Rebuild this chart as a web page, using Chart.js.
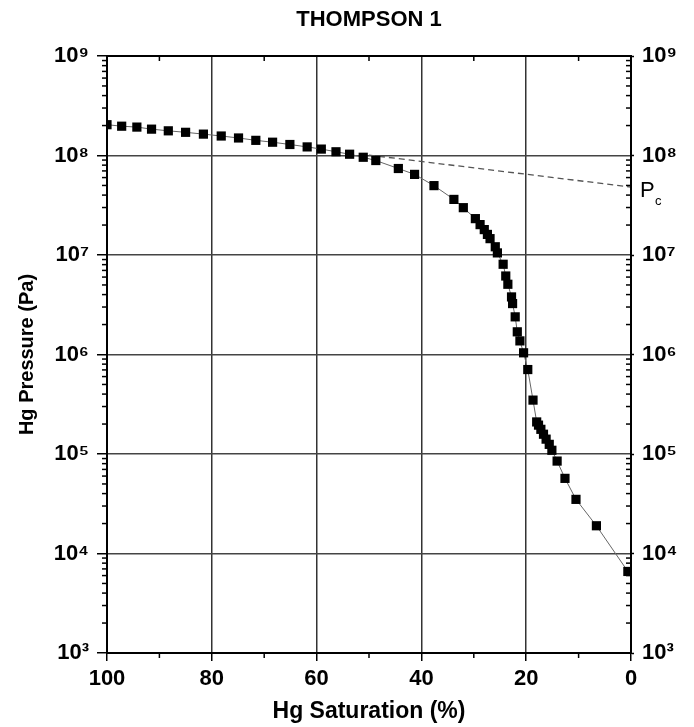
<!DOCTYPE html>
<html>
<head>
<meta charset="utf-8">
<script src="https://cdn.jsdelivr.net/npm/chart.js@4.4.1/dist/chart.umd.min.js"></script>
<style>
  html, body { margin: 0; padding: 0; background: #fff; }
  #wrap { width: 694px; height: 727px; }
</style>
</head>
<body>
<div id="wrap"><canvas id="c" width="694" height="727"></canvas></div>
<script>
// ---- data ----
const saturation = [100, 97.2, 94.3, 91.5, 88.3, 85.0, 81.6, 78.2, 74.9, 71.6, 68.4, 65.1, 61.8, 59.1, 56.3, 53.7, 51.1, 48.7,
  44.4, 41.3, 37.6, 33.8, 32.0, 29.7, 28.8, 28.0, 27.4, 26.9, 25.9, 25.5, 24.4, 23.9, 23.5, 22.8, 22.6, 22.1, 21.7, 21.2, 20.5,
  19.7, 18.7, 18.0, 17.65, 17.2, 16.7, 16.2, 15.6, 15.1, 14.1, 12.6, 10.5, 6.6, 0.6];
const pressure = [2.04e8, 1.97e8, 1.93e8, 1.84e8, 1.77e8, 1.71e8, 1.64e8, 1.57e8, 1.50e8, 1.42e8, 1.36e8, 1.29e8, 1.22e8, 1.16e8, 1.09e8, 1.03e8, 9.6e7, 8.9e7,
  7.4e7, 6.46e7, 4.98e7, 3.62e7, 2.99e7, 2.32e7, 2.02e7, 1.80e7, 1.61e7, 1.46e7, 1.21e7, 1.05e7, 8.07e6, 6.15e6, 5.08e6, 3.79e6, 3.25e6, 2.39e6, 1.69e6, 1.37e6, 1.04e6,
  7.06e5, 3.48e5, 2.10e5, 1.95e5, 1.77e5, 1.58e5, 1.41e5, 1.25e5, 1.09e5, 8.49e4, 5.69e4, 3.50e4, 1.90e4, 6.6e3];
const pcSaturation = [50, 0];
const pcPressure = [1.01e8, 4.82e7];
const xTickValues = [0, 20, 40, 60, 80, 100];
const xMinorValues = [10, 30, 50, 70, 90];
const yExponents = [3, 4, 5, 6, 7, 8, 9];
const titleText = 'THOMPSON 1';
const xTitle = 'Hg Saturation (%)';
const yTitle = 'Hg Pressure (Pa)';

const SUP = {'0':'⁰','1':'¹','2':'²','3':'³','4':'⁴','5':'⁵','6':'⁶','7':'⁷','8':'⁸','9':'⁹'};
const supLabel = v => { const e = Math.round(Math.log10(v)); return '10' + String(e).split('').map(d => SUP[d]).join(''); };
const FONT = '"Liberation Sans", Arial, Helvetica, sans-serif';

const mainPoints = saturation.map((s, i) => ({ x: s, y: pressure[i] }));
const pcPoints = pcSaturation.map((s, i) => ({ x: s, y: pcPressure[i] }));

const framePlugin = {
  id: 'frame',
  afterDatasetsDraw(chart) {
    const { ctx, chartArea: a, scales } = chart;
    const xs = scales.x, ys = scales.y;
    ctx.save();
    ctx.strokeStyle = '#000';
    ctx.lineWidth = 1.5;
    // minor y ticks (both sides, pointing left)
    for (const e of yExponents) {
      if (e === 9) continue;
      for (let m = 2; m <= 9; m++) {
        const py = ys.getPixelForValue(m * Math.pow(10, e));
        ctx.beginPath(); ctx.moveTo(a.left - 5, py); ctx.lineTo(a.left, py); ctx.stroke();
        ctx.beginPath(); ctx.moveTo(a.right - 5, py); ctx.lineTo(a.right, py); ctx.stroke();
      }
    }
    // minor x ticks
    for (const v of xMinorValues) {
      const px = xs.getPixelForValue(v);
      ctx.beginPath(); ctx.moveTo(px, a.top); ctx.lineTo(px, a.top + 5); ctx.stroke();
      ctx.beginPath(); ctx.moveTo(px, a.bottom); ctx.lineTo(px, a.bottom + 5); ctx.stroke();
    }
    // frame
    ctx.lineWidth = 2;
    ctx.strokeRect(a.left, a.top, a.right - a.left, a.bottom - a.top);
    // P_c label
    const py = ys.getPixelForValue(pcPressure[1]);
    ctx.fillStyle = '#000';
    ctx.textBaseline = 'alphabetic';
    ctx.textAlign = 'left';
    ctx.font = '22px ' + FONT;
    ctx.fillText('P', a.right + 9, py + 10);
    ctx.font = '13px ' + FONT;
    ctx.fillText('c', a.right + 24, py + 18);
    ctx.restore();
  }
};

new Chart(document.getElementById('c'), {
  type: 'scatter',
  data: {
    datasets: [
      {
        label: 'Hg injection',
        data: mainPoints,
        showLine: true,
        borderColor: '#666',
        borderWidth: 1,
        pointStyle: 'rect',
        pointRadius: 6.5,
        pointHoverRadius: 6.5,
        pointBackgroundColor: '#000',
        pointBorderColor: '#000',
        pointBorderWidth: 0,
        order: 1
      },
      {
        label: 'Pc',
        data: pcPoints,
        showLine: true,
        borderColor: '#555',
        borderWidth: 1.3,
        borderDash: [6, 4],
        pointRadius: 0,
        order: 2
      }
    ]
  },
  options: {
    responsive: false,
    animation: false,
    devicePixelRatio: 1,
    layout: { padding: 0 },
    plugins: {
      legend: { display: false },
      tooltip: { enabled: false },
      title: {
        display: true,
        text: titleText,
        fullSize: false,
        color: '#000',
        font: { family: FONT, size: 22, weight: 'bold', lineHeight: 1.2 },
        padding: { top: 7, bottom: 22.6 }
      }
    },
    scales: {
      x: {
        type: 'linear',
        position: 'bottom',
        min: 0, max: 100,
        reverse: true,
        afterBuildTicks: s => { s.ticks = xTickValues.map(v => ({ value: v })); },
        afterFit: s => { s.height = 74; },
        grid: { color: '#333', lineWidth: 1.5, tickLength: 8, tickColor: '#000', tickWidth: 1.5 },
        border: { display: true, color: '#000', width: 2 },
        ticks: { color: '#000', padding: 5, maxRotation: 0, font: { family: FONT, size: 22, weight: 'bold' } },
        title: { display: true, text: xTitle, color: '#000', padding: { top: 4, bottom: 2 },
                 font: { family: FONT, size: 23, weight: 'bold', lineHeight: 1.2 } }
      },
      y: {
        type: 'logarithmic',
        position: 'left',
        min: 1e3, max: 1e9,
        afterBuildTicks: s => { s.ticks = yExponents.map(e => ({ value: Math.pow(10, e) })); },
        afterFit: s => { s.width = 107; },
        grid: { color: '#444', lineWidth: 1.5, tickLength: 10, tickColor: '#000', tickWidth: 1.5 },
        border: { display: true, color: '#000', width: 2 },
        ticks: { color: '#000', padding: 8, callback: v => supLabel(v), font: { family: FONT, size: 22, weight: 'bold' } },
        title: { display: true, text: yTitle, color: '#000', padding: { top: 15, bottom: 0 },
                 font: { family: FONT, size: 20, weight: 'bold', lineHeight: 1.2 } }
      },
      y2: {
        type: 'logarithmic',
        position: 'right',
        min: 1e3, max: 1e9,
        afterBuildTicks: s => { s.ticks = yExponents.map(e => ({ value: Math.pow(10, e) })); },
        afterFit: s => { s.width = 63; },
        grid: { drawOnChartArea: false, tickLength: 3, tickColor: '#000', tickWidth: 1.5 },
        border: { display: true, color: '#000', width: 2 },
        ticks: { color: '#000', padding: 8, callback: v => supLabel(v), font: { family: FONT, size: 22, weight: 'bold' } }
      }
    }
  },
  plugins: [framePlugin]
});
</script>
</body>
</html>
